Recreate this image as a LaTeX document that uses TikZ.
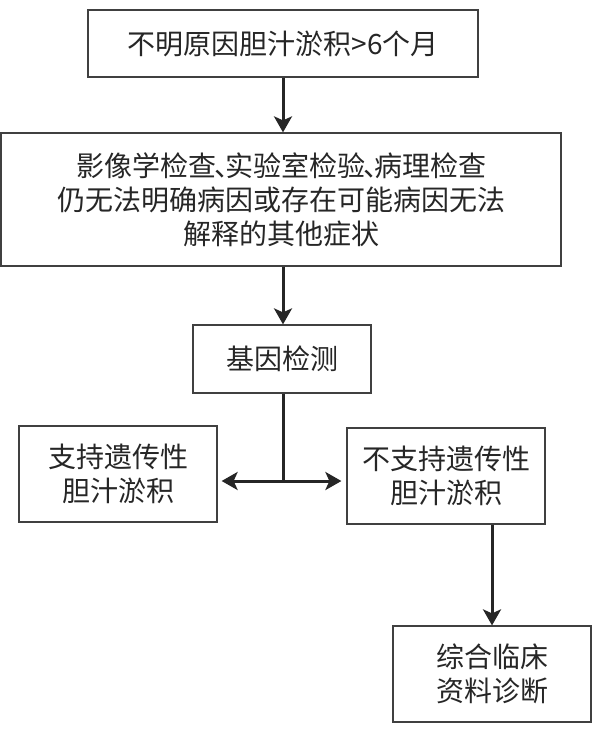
\documentclass[tikz,border=0pt]{standalone}
\usepackage{fontspec}
\setmainfont{Noto Sans CJK SC}
\usetikzlibrary{arrows.meta}
\newcommand{\dunhao}{\makebox[9pt][l]{\kern-2pt、}}
\tikzset{
  box/.style={draw=black!75,line width=1.2pt,text=black!85,align=center,inner sep=0pt,
    font=\fontsize{28pt}{34pt}\selectfont},
  arr/.style={line width=3pt,draw=black!85,-{Stealth[length=16pt,width=18pt,inset=4pt]}},
  seg/.style={line width=3pt,draw=black!85}
}
\begin{document}
\begin{tikzpicture}[x=1pt,y=-1pt]
\useasboundingbox (0,0) rectangle (592,733);
% boxes
\node[box,minimum width=390pt,minimum height=67pt] (b1) at (283,43.5) {不明原因胆汁淤积>6个月};
\node[box,minimum width=560pt,minimum height=133pt] (b2) at (281,199.5)
  {影像学检查\dunhao 实验室检验\dunhao 病理检查\\仍无法明确病因或存在可能病因无法\\解释的其他症状};
\node[box,minimum width=178pt,minimum height=68pt] (b3) at (282,359) {基因检测};
\node[box,minimum width=198pt,minimum height=96pt] (b4) at (118,474) {支持遗传性\\胆汁淤积};
\node[box,minimum width=198pt,minimum height=96pt] (b5) at (446,476) {不支持遗传性\\胆汁淤积};
\node[box,minimum width=198pt,minimum height=96pt] (b6) at (492,674) {综合临床\\资料诊断};
% connectors
\coordinate (j) at (283,481);
\draw[arr] (b1.south) -- (b1.south |- b2.north);
\draw[arr] (b1.south |- b2.south) -- (b1.south |- b3.north);
\draw[seg] (b1.south |- b3.south) -- (j);
\draw[arr,shorten >=4pt] (j) -- (j -| b4.east);
\draw[arr,shorten >=5pt] (j) -- (j -| b5.west);
\draw[arr] (b6.north |- b5.south) -- (b6.north);
\end{tikzpicture}
\end{document}
